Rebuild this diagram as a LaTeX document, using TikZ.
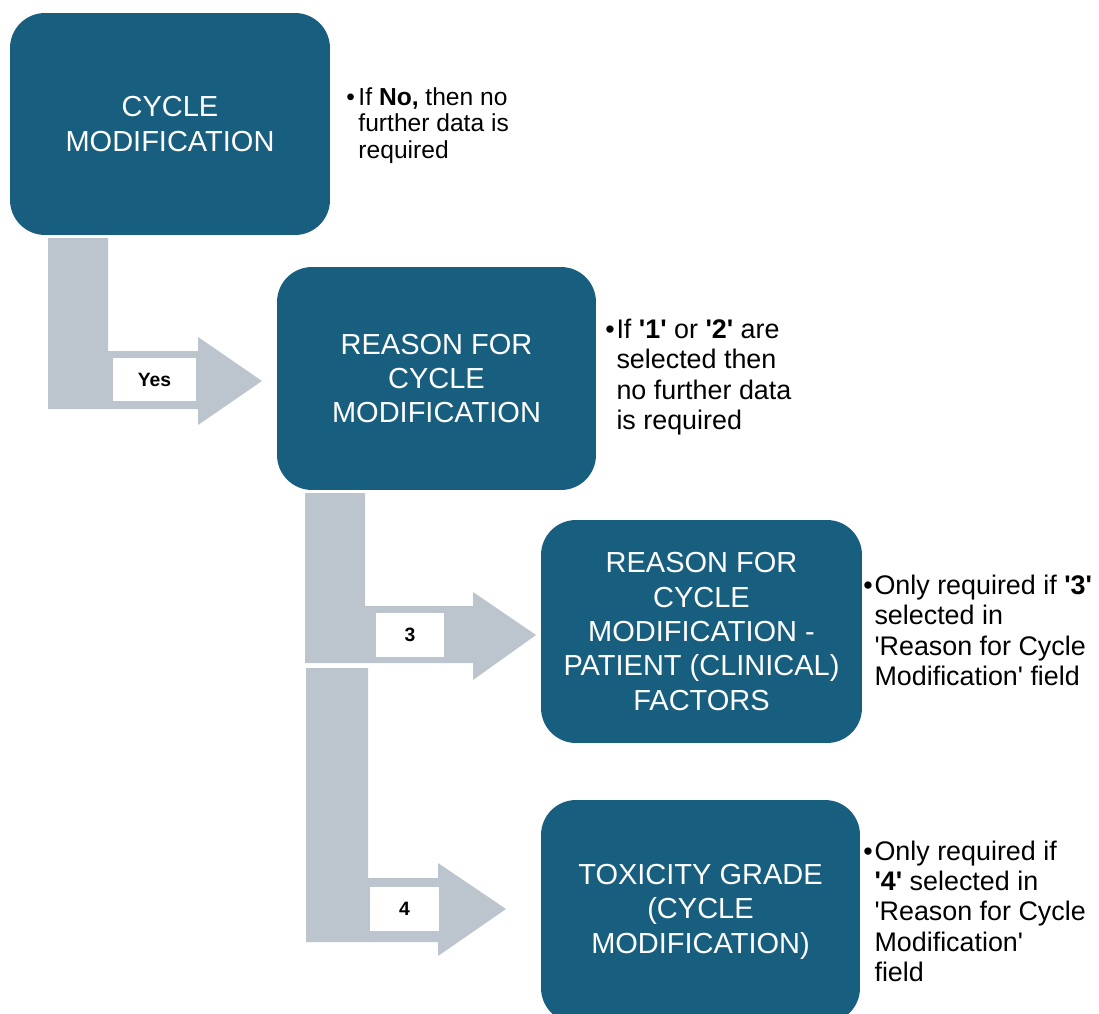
\documentclass[tikz,border=0pt]{standalone}
\usepackage{fontspec}
\setmainfont{Liberation Sans}
\usetikzlibrary{positioning}
\definecolor{boxblue}{HTML}{185E7F}
\definecolor{arrowgrey}{HTML}{BCC4CD}
\newcommand{\sq}{\textquotesingle}
\tikzset{
  stepbox/.style={fill=boxblue, rounded corners=0.7cm, text=white, align=center,
    inner sep=0pt, font=\fontsize{16.5}{19.6}\selectfont},
  note/.style={anchor=base west, inner sep=0pt},
  tag/.style={fill=white, inner sep=0pt, minimum height=0.87cm,
    font=\bfseries\fontsize{11}{13}\selectfont},
  block/.style={fill=arrowgrey},
}

\begin{document}
\begin{tikzpicture}[x=0.02cm, y=-0.02cm]
	\clip (0,0) rectangle (1099,1014);
	\fill [white] (0,0) rectangle (1099,1014);
	\node [stepbox, minimum width=6.4cm, minimum height=4.44cm] (cyc) at (170,124) {CYCLE\\MODIFICATION};
	\node [stepbox, minimum width=6.38cm, minimum height=4.46cm] (reason) at (436.5,378.5) {REASON FOR\\CYCLE\\MODIFICATION};
	\node [stepbox, minimum width=6.42cm, minimum height=4.46cm] (patient) at (701.5,631.5) {REASON FOR\\CYCLE\\MODIFICATION -\\PATIENT (CLINICAL)\\FACTORS};
	\node [stepbox, minimum width=6.38cm, minimum height=4.46cm] (tox) at (700.5,911.5) {TOXICITY GRADE\\(CYCLE\\MODIFICATION)};
	\fill [block] (48,238) -- (108,238) -- (108,351) -- (198,351) -- (198,337) -- (262,381) -- (198,425) -- (198,409) -- (48,409) -- cycle;
	\fill [block] (305,493) -- (365,493) -- (365,606) -- (473,606) -- (473,592) -- (536,635) -- (473,680) -- (473,663) -- (305,663) -- cycle;
	\fill [block] (306,668) -- (368,668) -- (368,878) -- (438,878) -- (438,863) -- (506,909) -- (438,956) -- (438,942) -- (306,942) -- cycle;
	\node [tag, minimum width=1.66cm] (yes) at (154.5,379.5) {Yes};
	\node [tag, minimum width=1.36cm] (three) at (410,635) {3};
	\node [tag, minimum width=1.38cm] (four) at (404.5,909) {4};
	\node [note, font=\fontsize{14}{15.3}\selectfont] (nocyc) at (346,105) {\begin{tabular}[t]{@{}l@{\hspace{2pt}}l@{}}
		\textbullet & If \textbf{No,} then no\\ & further data is\\ & required\end{tabular}};
	\node [note, font=\fontsize{15.3}{17.4}\selectfont] (noreason) at (605,338) {\begin{tabular}[t]{@{}l@{\hspace{1pt}}l@{}}
		\textbullet & If \textbf{\sq1\sq} or \textbf{\sq2\sq} are\\ & selected then\\ & no further data\\ & is required\end{tabular}};
	\node [note, font=\fontsize{15.3}{17.4}\selectfont] (onlythree) at (863,594) {\begin{tabular}[t]{@{}l@{\hspace{1pt}}l@{}}
		\textbullet & Only required if \textbf{\sq3\sq}\\ & selected in\\ & \sq Reason for Cycle\\ & Modification\sq\ field\end{tabular}};
	\node [note, font=\fontsize{15.3}{17.3}\selectfont] (onlyfour) at (863,860) {\begin{tabular}[t]{@{}l@{\hspace{1pt}}l@{}}
		\textbullet & Only required if\\ & \textbf{\sq4\sq} selected in\\ & \sq Reason for Cycle\\ & Modification\sq\\ & field\end{tabular}};
\end{tikzpicture}
\end{document}
